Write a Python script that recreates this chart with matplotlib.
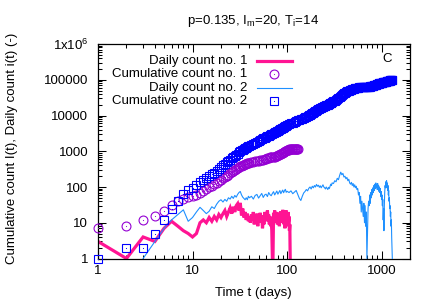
import matplotlib
matplotlib.use('Agg')
import matplotlib.pyplot as plt
from matplotlib.ticker import LogLocator, FixedLocator, FixedFormatter, NullFormatter
import numpy as np

plt.rcParams['font.family'] = ['Liberation Sans', 'DejaVu Sans']
plt.rcParams['mathtext.fontset'] = 'custom'
plt.rcParams['mathtext.rm'] = 'Liberation Sans'
plt.rcParams['mathtext.it'] = 'Liberation Sans:italic'

nan = float('nan')

# ---------------- data ----------------
title = r'p=0.135, I$_{\mathrm{m}}$=20, T$_{\mathrm{i}}$=14'
xlabel = 'Time t (days)'
ylabel = 'Cumulative count I(t), Daily count i(t) (-)'
panel = 'C'
legend_labels = ['Daily count no. 1', 'Cumulative count no. 1',
                 'Daily count no. 2', 'Cumulative count no. 2']
xticks = [1, 10, 100, 1000]
xticklabels = ['1', '10', '100', '1000']
yticks = [1, 10, 100, 1000, 10000, 100000, 1000000]
yticklabels = ['1', '10', '100', '1000', '10000', '100000', r'1x10$^{\mathrm{6}}$']

# Series 1
days1 = list(range(1, 109))
daily1 = [3, 1, 4, 3, 7, 11, 8, 6, 5, 4,
          5, 10, 12, 10, 14, 11, 15, 12, 17, 14,
          18, 22, 15, 20, 26, 18, 28, 20, 30, 34,
          22, 36, 16, 25, 14, 20, 12, 18, 11, 15,
          10, 17, 12, 20, 9, 16, 11, 18, 8, 14,
          10, 19, 12, 16, 7, 12, 9, 20, 14, 18,
          11, 22, 13, 17, 9, 15, 8, 12, 6, 1,
          1, 19, 14, 22, 10, 16, 12, 20, 9, 15,
          11, 18, 8, 14, 10, 21, 13, 17, 10, 23,
          15, 20, 9, 13, 7, 16, 10, 22, 12, 18,
          8, 14, 20, 11, 15, 6, 9, 1]
days1c = list(range(1, 41)) + list(range(42, 131, 2))
cum1 = [7, 8, 12, 15, 22, 32, 40, 46, 51, 55,
        60, 68, 78, 87, 99, 109, 122, 133, 148, 160,
        175, 193, 205, 221, 242, 256, 278, 293, 316, 340,
        356, 382, 394, 412, 422, 436, 445, 458, 466, 477,
        490, 505, 518, 533, 544, 560, 574, 586, 604, 620,
        640, 656, 670, 682, 690, 692, 712, 740, 760, 785,
        805, 830, 850, 880, 905, 940, 970, 995, 1020, 1055,
        1080, 1110, 1135, 1160, 1165, 1165, 1165, 1165, 1165, 1165,
        1165, 1165, 1165, 1165, 1165]

# Series 2
days2 = (list(range(1, 41)) + list(range(42, 101, 2)) +
         list(range(105, 301, 5)) + list(range(310, 1301, 10)))
daily2 = [nan, nan, 1, 3, 7, 12, 17, 23, 11, 14,
          20, 27, 22, 18, 21, 28, 25, 33, 40, 44,
          38, 45, 40, 50, 46, 55, 48, 58, 52, 62,
          70, 75, 60, 52, 48, 44, 50, 44, 55, 50,
          # 42..100 step 2
          55, 46, 58, 62, 49, 57, 66, 51, 60, 63,
          54, 70, 61, 57, 66, 74, 60, 68, 77, 63,
          71, 80, 65, 74, 82, 69, 79, 86, 71, 76,
          # 105..300 step 5
          70, 78, 65, 72, 80, 62, 48, 42, 55, 68,
          75, 85, 78, 92, 100, 88, 105, 95, 110, 100,
          118, 105, 112, 98, 108, 95, 105, 115, 100, 95,
          88, 100, 92, 85, 98, 90, 105, 120, 110, 130,
          # 310..1300 step 10
          125, 150, 140, 175, 160, 210, 260, 220, 240, 190,
          200, 170, 185, 150, 165, 130, 120, 135, 110, 125,
          100, 115, 95, 105, 85, 90, 60, 70, 35, 55,
          20, 40, 25, 15, 35, 10, 30, 8, 20, 1,
          5, 25, 40, 30, 60, 35, 70, 50, 85, 60,
          95, 70, 110, 80, 120, 90, 130, 100, 115, 85,
          125, 95, 110, 75, 100, 70, 90, 55, 75, 45,
          60, 30, 45, 12, 25, 6, 30, 70, 110, 95,
          140, 110, 150, 95, 130, 80, 110, 60, 80, 40,
          50, 25, 30, 15, 20, 8, 12, 4, 2, 1]
cum2 = [1, 2, 2, 5, 12, 24, 41, 64, 80, 95,
        112, 136, 158, 176, 197, 225, 250, 283, 323, 367,
        405, 450, 490, 540, 586, 641, 689, 747, 799, 861,
        931, 1006, 1066, 1118, 1166, 1210, 1260, 1304, 1359, 1409,
        # 42..100 step 2
        1515, 1620, 1720, 1835, 1945, 2050, 2170, 2285, 2395, 2520,
        2640, 2755, 2885, 3010, 3135, 3275, 3400, 3530, 3675, 3805,
        3940, 4095, 4230, 4370, 4525, 4670, 4820, 4985, 5135, 5290,
        # 105..300 step 5
        5640, 6030, 6360, 6720, 7120, 7430, 7670, 7880, 8155, 8495,
        8870, 9295, 9685, 10145, 10645, 11085, 11610, 12085, 12635, 13135,
        13725, 14250, 14810, 15300, 15840, 16315, 16840, 17415, 17915, 18390,
        18830, 19330, 19790, 20215, 20705, 21155, 21680, 22280, 22830, 23480,
        # 310..1300 step 10
        24700, 26200, 27600, 29300, 30900, 33000, 35500, 37700, 40000, 42000,
        43800, 45400, 47000, 48400, 49800, 51000, 52100, 53200, 54200, 55200,
        56100, 57000, 57800, 58600, 59300, 60000, 60500, 61000, 61400, 61800,
        62000, 62300, 62500, 62700, 62900, 63000, 63200, 63300, 63400, 63400,
        63500, 63700, 64000, 64300, 64700, 65000, 65500, 66000, 66600, 67200,
        67900, 68500, 69300, 70000, 70900, 71700, 72700, 73600, 74600, 75400,
        76400, 77300, 78200, 78900, 79800, 80400, 81100, 81600, 82200, 82600,
        83100, 83400, 83800, 83900, 84100, 84200, 84500, 85100, 86000, 86800,
        87900, 88800, 90000, 90800, 91800, 92400, 93200, 93700, 94300, 94600,
        95000, 95200, 95400, 95500, 95700, 95750, 95850, 95880, 95900, 95900]

assert len(days1) == len(daily1), (len(days1), len(daily1))
assert len(days1c) == len(cum1), (len(days1c), len(cum1))
assert len(days2) == len(daily2), (len(days2), len(daily2))
assert len(days2) == len(cum2), (len(days2), len(cum2))

# ---------------- styles ----------------
c_d1 = '#ff1493'
c_c1 = '#9400d3'
c_d2 = '#1e90ff'
c_c2 = '#0000ff'
fs = 9.5
ms_c, ms_s, ms_dot = 6.4, 5.9, 0.8

W, H = 436, 305
fig = plt.figure(figsize=(W / 100, H / 100), dpi=100)
L, R, T, B = 98, 410, 44, 258.5
ax = fig.add_axes([L / W, (H - B) / H, (R - L) / W, (B - T) / H])
ax.set_xscale('log')
ax.set_yscale('log')

ax.plot(days1, daily1, color=c_d1, lw=2.3, zorder=2, solid_joinstyle='miter')
ax.plot(days1c, cum1, ls='none', marker='o', ms=ms_c, mfc='none', mec=c_c1,
        mew=0.8, zorder=3, clip_on=False)
ax.plot(days1c, cum1, ls='none', marker='o', ms=ms_dot, mfc=c_c1, mew=0,
        zorder=3, clip_on=False)
ax.plot(days2, daily2, color=c_d2, lw=0.8, zorder=4)
ax.plot(days2, cum2, ls='none', marker='s', ms=ms_s, mfc='none', mec=c_c2,
        mew=0.8, zorder=5, clip_on=False)
ax.plot(days2, cum2, ls='none', marker='o', ms=ms_dot, mfc=c_c2, mew=0,
        zorder=5, clip_on=False)

ax.set_xlim(1, 2000)
ax.set_ylim(1, 1e6)

ax.xaxis.set_major_locator(FixedLocator(xticks))
ax.xaxis.set_major_formatter(FixedFormatter(xticklabels))
ax.xaxis.set_minor_locator(LogLocator(base=10, subs=np.arange(2, 10), numticks=30))
ax.xaxis.set_minor_formatter(NullFormatter())
ax.yaxis.set_major_locator(FixedLocator(yticks))
ax.yaxis.set_major_formatter(FixedFormatter(yticklabels))
ax.yaxis.set_minor_locator(LogLocator(base=10, subs=np.arange(2, 10), numticks=30))
ax.yaxis.set_minor_formatter(NullFormatter())

ax.tick_params(which='both', direction='in', top=True, right=True,
               width=0.75, colors='black', labelsize=fs)
ax.tick_params(which='major', length=5.5)
ax.tick_params(which='minor', length=3)
ax.tick_params(axis='y', which='major', pad=7)
ax.tick_params(axis='x', which='major', pad=5)
for s in ax.spines.values():
    s.set_linewidth(0.9)

# legend (gnuplot style: right-aligned text, sample at right)
def ax_x(px):
    return (px - L) / (R - L)

def ax_y(py):
    return (B - py) / (B - T)

rows = [60.7, 74.3, 87.7, 101.0]
tx = ax_x(247)
sx0, sx1, sm = ax_x(257), ax_x(292), ax_x(274.3)
for lab, ry in zip(legend_labels, rows):
    ax.text(tx, ax_y(ry), lab, transform=ax.transAxes, ha='right',
            va='center', fontsize=fs)
ax.plot([sx0, sx1], [ax_y(rows[0])] * 2, transform=ax.transAxes, color=c_d1, lw=2.3)
ax.plot([sm], [ax_y(rows[1])], transform=ax.transAxes, ls='none', marker='o',
        ms=ms_c, mfc='none', mec=c_c1, mew=0.8)
ax.plot([sm], [ax_y(rows[1])], transform=ax.transAxes, ls='none', marker='o',
        ms=ms_dot, mfc=c_c1, mew=0)
ax.plot([sx0, sx1], [ax_y(rows[2])] * 2, transform=ax.transAxes, color=c_d2, lw=0.8)
ax.plot([sm], [ax_y(rows[3])], transform=ax.transAxes, ls='none', marker='s',
        ms=ms_s, mfc='none', mec=c_c2, mew=0.8)
ax.plot([sm], [ax_y(rows[3])], transform=ax.transAxes, ls='none', marker='o',
        ms=ms_dot, mfc=c_c2, mew=0)

ax.text(ax_x(386.7), ax_y(59.3), panel, transform=ax.transAxes, ha='center',
        va='center', fontsize=fs)

fig.text(253.5 / W, 1 - 21 / H, title, ha='center', va='center', fontsize=fs)
fig.text(253.5 / W, 1 - 293 / H, xlabel, ha='center', va='center', fontsize=fs)
fig.text(12 / W, 1 - 148 / H, ylabel, ha='center', va='center', fontsize=fs,
         rotation=90)

ax.set_xlim(1, 2000)
ax.set_ylim(1, 1e6)
fig.savefig('out.png', dpi=100)
